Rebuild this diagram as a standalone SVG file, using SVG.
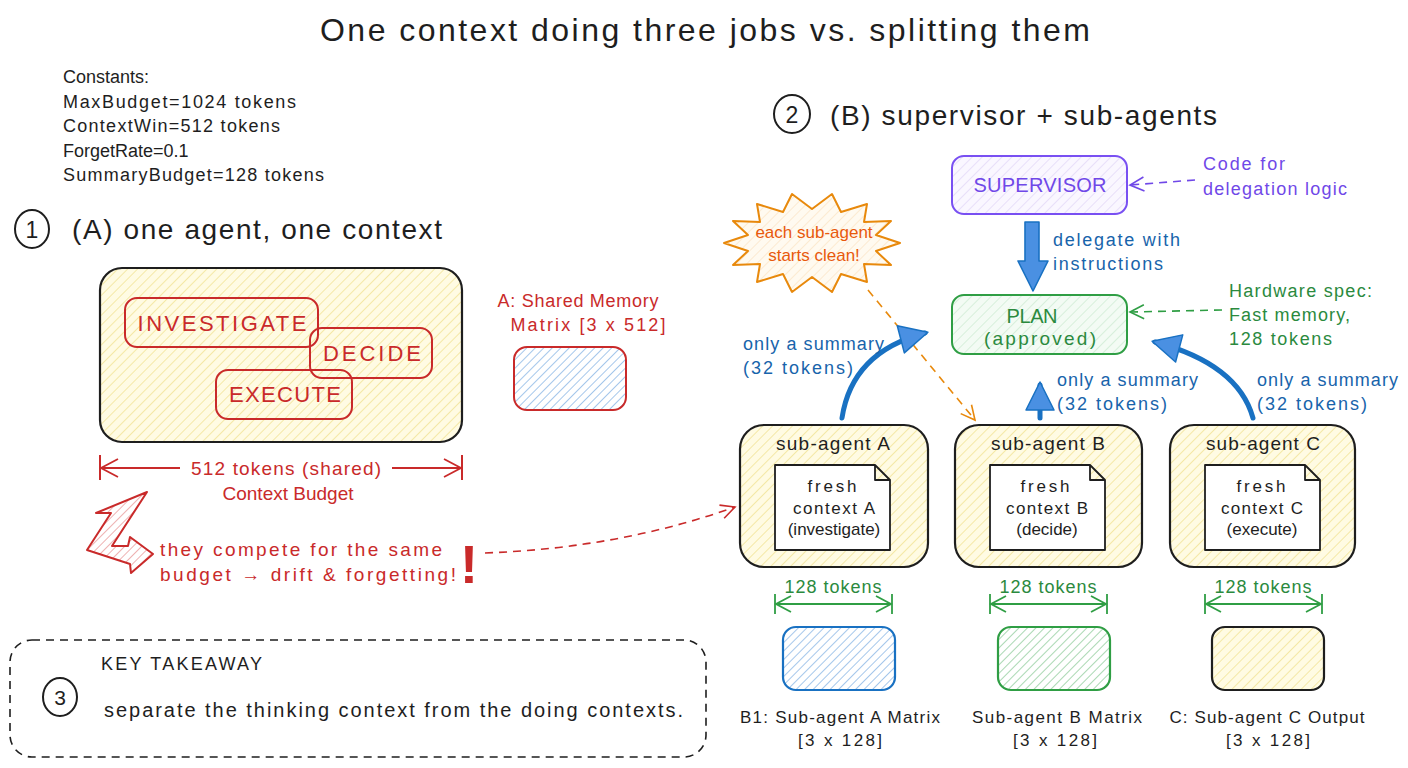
<svg xmlns="http://www.w3.org/2000/svg" width="1408" height="768" viewBox="0 0 1408 768">
<defs>
<pattern id="hY" width="7" height="7" patternUnits="userSpaceOnUse" patternTransform="rotate(45)"><rect width="7" height="7" fill="#fffbe3"/><line x1="0" y1="0" x2="0" y2="7" stroke="#f0e08c" stroke-width="1.4"/></pattern>
<pattern id="hB" width="6" height="6" patternUnits="userSpaceOnUse" patternTransform="rotate(45)"><rect width="6" height="6" fill="#ffffff"/><line x1="0" y1="0" x2="0" y2="6" stroke="#74a9e0" stroke-width="1.3"/></pattern>
<pattern id="hG" width="6" height="6" patternUnits="userSpaceOnUse" patternTransform="rotate(45)"><rect width="6" height="6" fill="#ffffff"/><line x1="0" y1="0" x2="0" y2="6" stroke="#7cc48a" stroke-width="1.3"/></pattern>
<pattern id="hGl" width="7" height="7" patternUnits="userSpaceOnUse" patternTransform="rotate(45)"><rect width="7" height="7" fill="#f3fbf4"/><line x1="0" y1="0" x2="0" y2="7" stroke="#c4e8cb" stroke-width="1.2"/></pattern>
<pattern id="hP" width="7" height="7" patternUnits="userSpaceOnUse" patternTransform="rotate(45)"><rect width="7" height="7" fill="#faf7ff"/><line x1="0" y1="0" x2="0" y2="7" stroke="#ddd0f5" stroke-width="1.2"/></pattern>
<pattern id="hO" width="7" height="7" patternUnits="userSpaceOnUse" patternTransform="rotate(45)"><rect width="7" height="7" fill="#fffaf0"/><line x1="0" y1="0" x2="0" y2="7" stroke="#fbe0bd" stroke-width="1.2"/></pattern>
<pattern id="hR" width="6" height="6" patternUnits="userSpaceOnUse" patternTransform="rotate(45)"><rect width="6" height="6" fill="#ffffff"/><line x1="0" y1="0" x2="0" y2="6" stroke="#d66" stroke-width="1"/></pattern>
<marker id="openR" markerWidth="24" markerHeight="24" refX="20" refY="12" orient="auto-start-reverse" markerUnits="userSpaceOnUse"><path d="M3,3 L20,12 L3,21" fill="none" stroke="#c92a2a" stroke-width="1.8"/></marker>
<marker id="openRd" markerWidth="18" markerHeight="18" refX="16" refY="9" orient="auto" markerUnits="userSpaceOnUse"><path d="M2,2 L16,9 L2,16" fill="none" stroke="#c92a2a" stroke-width="1.6"/></marker>
<marker id="openG" markerWidth="22" markerHeight="22" refX="18" refY="11" orient="auto-start-reverse" markerUnits="userSpaceOnUse"><path d="M3,3 L18,11 L3,19" fill="none" stroke="#2f9e44" stroke-width="1.8"/></marker>
<marker id="openP" markerWidth="18" markerHeight="18" refX="16" refY="9" orient="auto" markerUnits="userSpaceOnUse"><path d="M2,2 L16,9 L2,16" fill="none" stroke="#7048e8" stroke-width="1.6"/></marker>
<marker id="openGd" markerWidth="18" markerHeight="18" refX="16" refY="9" orient="auto" markerUnits="userSpaceOnUse"><path d="M2,2 L16,9 L2,16" fill="none" stroke="#2f9e44" stroke-width="1.6"/></marker>
<marker id="openO" markerWidth="18" markerHeight="18" refX="16" refY="9" orient="auto" markerUnits="userSpaceOnUse"><path d="M2,2 L16,9 L2,16" fill="none" stroke="#e8890c" stroke-width="1.6"/></marker>
<marker id="headB" markerWidth="34" markerHeight="34" refX="27" refY="17" orient="auto" markerUnits="userSpaceOnUse"><path d="M2,3 L30,17 L2,31 Z" fill="#4a90e2" stroke="#1971c2" stroke-width="1.5" stroke-linejoin="round"/></marker>
</defs>
<style>
text{font-family:"Liberation Sans","DejaVu Sans",sans-serif;}
.k{fill:#1e1e1e}
.r{fill:#c92a2a}
.b{fill:#1864ab}
.g{fill:#2b8a3e}
.p{fill:#7048e8}
.o{fill:#e8590c}
.c{text-anchor:middle}
.box{stroke:#1e1e1e;stroke-width:2.2}
</style>
<rect width="1408" height="768" fill="#ffffff"/>

<text x="705" y="41" class="k c" font-size="32" textLength="770" lengthAdjust="spacing">One context doing three jobs vs. splitting them</text>

<g id="constants" font-size="18">
<text x="63" y="83" class="k">Constants:</text>
<text x="63" y="108" class="k" textLength="233" lengthAdjust="spacing">MaxBudget=1024 tokens</text>
<text x="63" y="132" class="k" textLength="217" lengthAdjust="spacing">ContextWin=512 tokens</text>
<text x="63" y="157" class="k">ForgetRate=0.1</text>
<text x="63" y="181" class="k" textLength="261" lengthAdjust="spacing">SummaryBudget=128 tokens</text>
</g>

<g id="section1">
<ellipse cx="32" cy="229" rx="17" ry="19" fill="none" stroke="#1e1e1e" stroke-width="2"/>
<text x="32" y="238" class="k c" font-size="23">1</text>
<text x="72" y="239" class="k" font-size="28" textLength="370" lengthAdjust="spacing">(A) one agent, one context</text>
</g>

<g id="context-box">
<rect x="100" y="268" width="362" height="174" rx="22" fill="url(#hY)" class="box"/>
</g>
<g id="investigate">
<rect x="125" y="298" width="193" height="49" rx="12" fill="none" stroke="#c92a2a" stroke-width="2"/>
<text x="222" y="331" class="r c" font-size="22" textLength="169" lengthAdjust="spacing">INVESTIGATE</text>
</g>
<g id="decide">
<rect x="310" y="328" width="122" height="50" rx="12" fill="none" stroke="#c92a2a" stroke-width="2"/>
<text x="372" y="361" class="r c" font-size="22" textLength="98" lengthAdjust="spacing">DECIDE</text>
</g>
<g id="execute">
<rect x="216" y="370" width="136" height="49" rx="12" fill="none" stroke="#c92a2a" stroke-width="2"/>
<text x="285" y="402" class="r c" font-size="22" textLength="112" lengthAdjust="spacing">EXECUTE</text>
</g>

<g id="shared-memory">
<text x="578" y="307" class="r c" font-size="18" textLength="161" lengthAdjust="spacing">A: Shared Memory</text>
<text x="588" y="331" class="r c" font-size="18" textLength="155" lengthAdjust="spacing">Matrix [3 x 512]</text>
<rect x="514" y="347" width="112" height="63" rx="13" fill="url(#hB)" stroke="#c92a2a" stroke-width="2"/>
</g>

<g id="budget-dim">
<line x1="100" y1="455" x2="100" y2="480" stroke="#c92a2a" stroke-width="2"/>
<line x1="462" y1="455" x2="462" y2="480" stroke="#c92a2a" stroke-width="2"/>
<line x1="101" y1="468" x2="180" y2="468" stroke="#c92a2a" stroke-width="2" marker-start="url(#openR)"/>
<line x1="392" y1="468" x2="461" y2="468" stroke="#c92a2a" stroke-width="2" marker-end="url(#openR)"/>
<text x="286" y="475" class="r c" font-size="19" textLength="190" lengthAdjust="spacing">512 tokens (shared)</text>
<text x="288" y="500" class="r c" font-size="19">Context Budget</text>
</g>

<g id="warning">
<polygon points="96,513 147,492 112,546 128,546 130,537 153,554 131,573 130,564 87,550 111,513" fill="url(#hR)" stroke="#c92a2a" stroke-width="2" stroke-linejoin="round"/>
<text x="160" y="556" class="r" font-size="19" textLength="282" lengthAdjust="spacing">they compete for the same</text>
<text x="160" y="581" class="r" font-size="19" textLength="296" lengthAdjust="spacing">budget → drift &amp; forgetting!</text>
<text x="469" y="583" class="r c" font-size="54" font-weight="bold">!</text>
</g>

<g id="takeaway">
<rect x="10" y="640" width="696" height="117" rx="22" fill="none" stroke="#1e1e1e" stroke-width="1.6" stroke-dasharray="8 6"/>
<text x="101" y="670" class="k" font-size="18" textLength="161" lengthAdjust="spacing">KEY TAKEAWAY</text>
<ellipse cx="60" cy="697" rx="17" ry="19" fill="none" stroke="#1e1e1e" stroke-width="2"/>
<text x="60" y="705" class="k c" font-size="21">3</text>
<text x="104" y="717" class="k" font-size="20" textLength="579" lengthAdjust="spacing">separate the thinking context from the doing contexts.</text>
</g>

<g id="section2">
<ellipse cx="792" cy="114" rx="18" ry="19" fill="none" stroke="#1e1e1e" stroke-width="2"/>
<text x="792" y="123" class="k c" font-size="23">2</text>
<text x="830" y="125" class="k" font-size="28" textLength="387" lengthAdjust="spacing">(B) supervisor + sub-agents</text>
</g>

<g id="supervisor">
<rect x="952" y="156" width="175" height="58" rx="12" fill="url(#hP)" stroke="#7950f2" stroke-width="2"/>
<text x="1040" y="192" class="p c" font-size="20" textLength="133" lengthAdjust="spacing">SUPERVISOR</text>
</g>
<g id="note-code" font-size="18">
<text x="1203" y="170" class="p" textLength="82" lengthAdjust="spacing">Code for</text>
<text x="1203" y="195" class="p" textLength="144" lengthAdjust="spacing">delegation logic</text>
</g>

<g id="plan">
<rect x="952" y="295" width="175" height="59" rx="12" fill="url(#hGl)" stroke="#2f9e44" stroke-width="2"/>
<text x="1032" y="323" class="g c" font-size="20" textLength="51" lengthAdjust="spacing">PLAN</text>
<text x="1040" y="345" class="g c" font-size="19" textLength="112" lengthAdjust="spacing">(approved)</text>
</g>
<g id="note-hw" font-size="18">
<text x="1229" y="297" class="g" textLength="143" lengthAdjust="spacing">Hardware spec:</text>
<text x="1229" y="321" class="g" textLength="121" lengthAdjust="spacing">Fast memory,</text>
<text x="1229" y="345" class="g" textLength="103" lengthAdjust="spacing">128 tokens</text>
</g>

<g id="starburst">
<polygon points="900,243 876,251 891,265 864,264 867,282 841,274 832,292 812,277 792,292 783,274 757,282 760,264 733,265 748,251 724,243 748,235 733,221 760,222 757,204 783,212 792,194 812,209 832,194 841,212 867,204 864,222 891,221 876,235" fill="url(#hO)" stroke="#e8890c" stroke-width="2" stroke-linejoin="round"/>
<text x="814" y="238" class="o c" font-size="17">each sub-agent</text>
<text x="814" y="261" class="o c" font-size="17">starts clean!</text>
</g>

<g id="sub-agent-a">
<rect x="740" y="425" width="188" height="142" rx="24" fill="url(#hY)" class="box"/>
<text x="833" y="450" class="k c" font-size="19" textLength="114" lengthAdjust="spacing">sub-agent A</text>
<path d="M775,465 H875 L890,480 V550 H775 Z M875,465 V480 H890" fill="#ffffff" stroke="#1e1e1e" stroke-width="1.8" stroke-linejoin="round"/>
<text x="832" y="492" class="k c" font-size="17" textLength="49" lengthAdjust="spacing">fresh</text>
<text x="834" y="514" class="k c" font-size="17" textLength="82" lengthAdjust="spacing">context A</text>
<text x="834" y="535" class="k c" font-size="17">(investigate)</text>
</g>
<g id="sub-agent-b">
<rect x="955" y="425" width="187" height="142" rx="24" fill="url(#hY)" class="box"/>
<text x="1048" y="450" class="k c" font-size="19" textLength="114" lengthAdjust="spacing">sub-agent B</text>
<path d="M990,465 H1090 L1105,480 V550 H990 Z M1090,465 V480 H1105" fill="#ffffff" stroke="#1e1e1e" stroke-width="1.8" stroke-linejoin="round"/>
<text x="1045" y="492" class="k c" font-size="17" textLength="49" lengthAdjust="spacing">fresh</text>
<text x="1047" y="514" class="k c" font-size="17" textLength="82" lengthAdjust="spacing">context B</text>
<text x="1047" y="535" class="k c" font-size="17">(decide)</text>
</g>
<g id="sub-agent-c">
<rect x="1170" y="425" width="185" height="142" rx="24" fill="url(#hY)" class="box"/>
<text x="1263" y="450" class="k c" font-size="19" textLength="114" lengthAdjust="spacing">sub-agent C</text>
<path d="M1205,465 H1305 L1320,480 V550 H1205 Z M1305,465 V480 H1320" fill="#ffffff" stroke="#1e1e1e" stroke-width="1.8" stroke-linejoin="round"/>
<text x="1261" y="492" class="k c" font-size="17" textLength="49" lengthAdjust="spacing">fresh</text>
<text x="1262" y="514" class="k c" font-size="17" textLength="82" lengthAdjust="spacing">context C</text>
<text x="1262" y="535" class="k c" font-size="17">(execute)</text>
</g>

<g id="dims-128" stroke="#2f9e44" stroke-width="1.8">
<line x1="775" y1="594" x2="775" y2="614"/><line x1="892" y1="594" x2="892" y2="614"/>
<line x1="776" y1="604" x2="891" y2="604" marker-start="url(#openG)" marker-end="url(#openG)"/>
<line x1="990" y1="594" x2="990" y2="614"/><line x1="1107" y1="594" x2="1107" y2="614"/>
<line x1="991" y1="604" x2="1106" y2="604" marker-start="url(#openG)" marker-end="url(#openG)"/>
<line x1="1205" y1="594" x2="1205" y2="614"/><line x1="1322" y1="594" x2="1322" y2="614"/>
<line x1="1206" y1="604" x2="1321" y2="604" marker-start="url(#openG)" marker-end="url(#openG)"/>
</g>
<g id="dim-labels" font-size="18">
<text x="833" y="593" class="g c" textLength="97" lengthAdjust="spacing">128 tokens</text>
<text x="1048" y="593" class="g c" textLength="97" lengthAdjust="spacing">128 tokens</text>
<text x="1263" y="593" class="g c" textLength="97" lengthAdjust="spacing">128 tokens</text>
</g>

<g id="matrix-a">
<rect x="783" y="627" width="112" height="63" rx="13" fill="url(#hB)" stroke="#1971c2" stroke-width="2.2"/>
<text x="840" y="723" class="k c" font-size="17" textLength="200" lengthAdjust="spacing">B1: Sub-agent A Matrix</text>
<text x="840" y="746" class="k c" font-size="17" textLength="84" lengthAdjust="spacing">[3 x 128]</text>
</g>
<g id="matrix-b">
<rect x="998" y="627" width="112" height="63" rx="13" fill="url(#hG)" stroke="#2f9e44" stroke-width="2.2"/>
<text x="1057" y="723" class="k c" font-size="17" textLength="170" lengthAdjust="spacing">Sub-agent B Matrix</text>
<text x="1055" y="746" class="k c" font-size="17" textLength="84" lengthAdjust="spacing">[3 x 128]</text>
</g>
<g id="output-c">
<rect x="1212" y="627" width="112" height="63" rx="13" fill="url(#hY)" stroke="#1e1e1e" stroke-width="2.2"/>
<text x="1267" y="723" class="k c" font-size="17" textLength="195" lengthAdjust="spacing">C: Sub-agent C Output</text>
<text x="1268" y="746" class="k c" font-size="17" textLength="84" lengthAdjust="spacing">[3 x 128]</text>
</g>

<g id="connectors">
<path d="M485,553 Q620,548 735,507" fill="none" stroke="#c92a2a" stroke-width="1.6" stroke-dasharray="8 6" marker-end="url(#openRd)"/>
<path d="M1195,180 L1130,185" fill="none" stroke="#7048e8" stroke-width="1.6" stroke-dasharray="8 6" marker-end="url(#openP)"/>
<path d="M1222,310 L1130,312" fill="none" stroke="#2f9e44" stroke-width="1.6" stroke-dasharray="8 6" marker-end="url(#openGd)"/>
<path d="M868,290 L975,420" fill="none" stroke="#e8890c" stroke-width="1.6" stroke-dasharray="8 6" marker-end="url(#openO)"/>
<polygon points="1025,222 1039,222 1039,261 1048,261 1033,291 1018,261 1025,261" fill="#4a90e2" stroke="#1971c2" stroke-width="1.6" stroke-linejoin="round"/>
<path d="M842,418 Q852,352 925,333" fill="none" stroke="#1971c2" stroke-width="5" stroke-linecap="round" marker-end="url(#headB)"/>
<path d="M1040,418 L1040,385" fill="none" stroke="#1971c2" stroke-width="5" stroke-linecap="round" marker-end="url(#headB)"/>
<path d="M1253,418 Q1238,364 1155,342" fill="none" stroke="#1971c2" stroke-width="5" stroke-linecap="round" marker-end="url(#headB)"/>
</g>
<g id="edge-labels" font-size="18">
<text x="1053" y="246" class="b" textLength="127" lengthAdjust="spacing">delegate with</text>
<text x="1053" y="270" class="b" textLength="110" lengthAdjust="spacing">instructions</text>
<text x="743" y="350" class="b" textLength="141" lengthAdjust="spacing">only a summary</text>
<text x="743" y="374" class="b" textLength="110" lengthAdjust="spacing">(32 tokens)</text>
<text x="1057" y="386" class="b" textLength="141" lengthAdjust="spacing">only a summary</text>
<text x="1057" y="410" class="b" textLength="110" lengthAdjust="spacing">(32 tokens)</text>
<text x="1257" y="386" class="b" textLength="141" lengthAdjust="spacing">only a summary</text>
<text x="1257" y="410" class="b" textLength="110" lengthAdjust="spacing">(32 tokens)</text>
</g>
</svg>
